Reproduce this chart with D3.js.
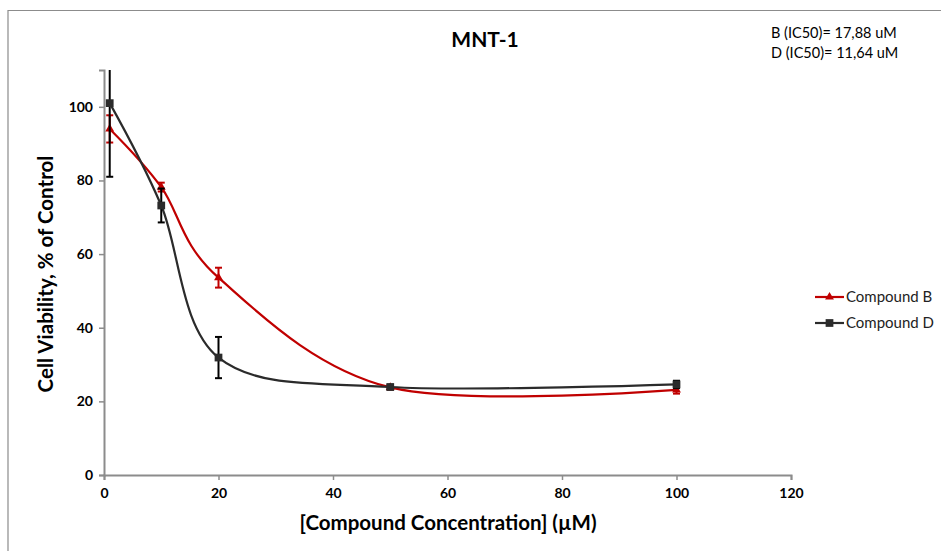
<!DOCTYPE html>
<html><head><meta charset="utf-8">
<script src="https://cdn.jsdelivr.net/npm/d3@7"></script>
<style>body{margin:0;background:#fff;} text{font-family:Lato,"Open Sans",sans-serif;}</style>
</head><body><svg id="c" width="941" height="551"></svg>
<script>
const concentrations = [1, 10, 20, 50, 100];
const compoundB = [94.0, 78.2, 53.6, 23.8, 23.1];
const compoundBErr = [3.7, 1.2, 2.7, 0.6, 1.0];
const compoundD = [101.0, 73.2, 31.9, 23.9, 24.6];
const compoundDErr = [20.0, 4.6, 5.6, 0.6, 1.0];
const xTicks = [0, 20, 40, 60, 80, 100, 120];
const yTicks = [0, 20, 40, 60, 80, 100];
const seriesNames = ["Compound B", "Compound D"];
const annotations = ["B (IC50)= 17,88 uM", "D (IC50)= 11,64 uM"];

const svg = d3.select("#c");
const m = {l:104};
const x = d3.scaleLinear().domain([0,120]).range([m.l, 791]);
const y = d3.scaleLinear().domain([0,110]).range([475, 70]);

// frame
svg.append("path").attr("d","M8,551 V10.5 H941").attr("fill","none").attr("stroke","#8c8c8c").attr("stroke-width",1.2);

// axes
const gx = svg.append("g").attr("transform","translate(0,475)")
  .call(d3.axisBottom(x).tickValues(xTicks).tickSize(5).tickPadding(8));
const gy = svg.append("g").attr("transform",`translate(${m.l},0)`)
  .call(d3.axisLeft(y).tickValues(yTicks).tickSize(5).tickPadding(6));
[gx, gy].forEach(g=>{
  g.select(".domain").attr("stroke","#8c8c8c").attr("stroke-width",2);
  g.selectAll(".tick line").attr("stroke","#8c8c8c").attr("stroke-width",1.5);
  g.selectAll(".tick text").attr("fill","#000").style("font-size","14px").style("font-weight","bold").style("font-family","Lato,'Open Sans',sans-serif");
});

const series = [
  {name: seriesNames[0], vals: compoundB, err: compoundBErr, color:"#c00000", errColor:"#c00000", marker:"triangle"},
  {name: seriesNames[1], vals: compoundD, err: compoundDErr, color:"#2b2b2b", errColor:"#000", marker:"square"}
];

const line = d3.line().x(d=>x(d[0])).y(d=>y(d[1])).curve(d3.curveCardinal.tension(0));
const [y0, y1] = y.domain();
const symFor = s => d3.symbol().type(s.marker==="triangle"?d3.symbolTriangle:d3.symbolSquare).size(s.marker==="triangle"?34:60);

series.forEach(s=>{
  const pts = concentrations.map((c,i)=>[c, s.vals[i], s.err[i]]);
  svg.append("path").datum(pts).attr("d", line).attr("fill","none").attr("stroke", s.color).attr("stroke-width",2.2);
  const eg = svg.append("g");
  pts.forEach(p=>{
    const hi = Math.min(p[1]+p[2], y1), lo = Math.max(p[1]-p[2], y0);
    const cx = x(p[0]);
    eg.append("line").attr("x1",cx).attr("x2",cx).attr("y1",y(hi)).attr("y2",y(lo)).attr("stroke",s.errColor).attr("stroke-width",2);
    if (p[1]+p[2] <= y1) eg.append("line").attr("x1",cx-3.5).attr("x2",cx+3.5).attr("y1",y(hi)).attr("y2",y(hi)).attr("stroke",s.errColor).attr("stroke-width",2);
    eg.append("line").attr("x1",cx-3.5).attr("x2",cx+3.5).attr("y1",y(lo)).attr("y2",y(lo)).attr("stroke",s.errColor).attr("stroke-width",2);
  });
  svg.append("g").selectAll("path").data(pts).join("path")
    .attr("transform", d=>`translate(${x(d[0])},${y(d[1])})`)
    .attr("d", symFor(s)).attr("fill", s.color);
});

// title
svg.append("text").attr("x",485).attr("y",47).attr("text-anchor","middle")
  .style("font-size","21px").style("font-weight","bold").text("MNT-1");

// annotations
annotations.forEach((t,i)=>svg.append("text").attr("x",771).attr("y",38+i*20).style("font-size","14.5px").attr("fill","#000").text(t));

// axis titles
svg.append("text").attr("x",448).attr("y",530).attr("text-anchor","middle")
  .style("font-size","20.5px").style("font-weight","bold").text("[Compound Concentration] (\u00b5M)");
svg.append("text").attr("transform","translate(53,274) rotate(-90)").attr("text-anchor","middle")
  .style("font-size","20.5px").style("font-weight","bold").text("Cell Viability, % of Control");

// legend
series.forEach((s,i)=>{
  const ly = 297 + i*26;
  const g = svg.append("g");
  g.append("line").attr("x1",815).attr("x2",844).attr("y1",ly).attr("y2",ly).attr("stroke",s.color).attr("stroke-width",2.2);
  g.append("path").attr("transform",`translate(829.5,${ly})`).attr("d", symFor(s)).attr("fill",s.color);
  g.append("text").attr("x",846).attr("y",ly+5).style("font-size","15px").attr("fill","#222").text(s.name);
});
</script></body></html>
